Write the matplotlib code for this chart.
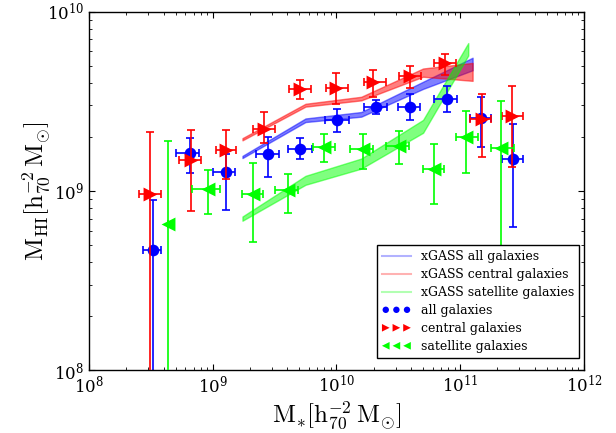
import matplotlib

matplotlib.use("Agg")
import matplotlib.pyplot as plt
import numpy as np

plt.rcParams.update({
    "font.family": "serif",
    "font.serif": ["DejaVu Serif"],
    "mathtext.fontset": "cm",
    "axes.linewidth": 1.0,
})

# ---- observed points (all / central / satellite) ----
all_x = [3.27e8, 6.53e8, 1.27e9, 2.78e9, 5.09e9, 1.01e10, 2.09e10, 3.93e10, 7.76e10, 1.48e11, 2.67e11]
all_y = [4.66e8, 1.62e9, 1.27e9, 1.60e9, 1.72e9, 2.50e9, 2.94e9, 2.94e9, 3.27e9, 2.54e9, 1.50e9]
all_xlo = [2.74e8, 5.04e8, 1.00e9, 2.22e9, 4.05e9, 8.15e9, 1.68e10, 3.12e10, 6.17e10, 1.20e11, 2.19e11]
all_xhi = [3.85e8, 7.77e8, 1.50e9, 3.43e9, 6.37e9, 1.26e10, 2.56e10, 4.73e10, 9.50e10, 1.77e11, 3.24e11]
all_ylo = [1e7, 1.25e9, 7.8e8, 1.19e9, 1.50e9, 2.13e9, 2.67e9, 2.48e9, 2.75e9, 1.76e9, 6.28e8]
all_yhi = [8.85e8, 1.97e9, 1.60e9, 2.01e9, 1.96e9, 2.85e9, 3.20e9, 3.49e9, 3.84e9, 3.34e9, 2.37e9]

cen_x = [3.10e8, 6.61e8, 1.29e9, 2.60e9, 5.04e9, 1.00e10, 1.99e10, 3.93e10, 7.57e10, 1.50e11, 2.64e11]
cen_y = [9.64e8, 1.48e9, 1.68e9, 2.22e9, 3.72e9, 3.77e9, 4.06e9, 4.37e9, 5.18e9, 2.53e9, 2.62e9]
cen_xlo = [2.55e8, 5.35e8, 1.07e9, 2.11e9, 4.12e9, 8.26e9, 1.68e10, 3.22e10, 6.17e10, 1.20e11, 2.19e11]
cen_xhi = [3.79e8, 8.11e8, 1.55e9, 3.16e9, 6.25e9, 1.25e10, 2.51e10, 4.82e10, 9.22e10, 1.77e11, 3.24e11]
cen_ylo = [1e7, 7.67e8, 1.17e9, 1.84e9, 3.27e9, 3.07e9, 3.34e9, 3.73e9, 4.42e9, 1.55e9, 1.35e9]
cen_yhi = [2.13e9, 2.18e9, 2.18e9, 2.75e9, 4.18e9, 4.52e9, 4.75e9, 4.98e9, 5.79e9, 3.46e9, 3.84e9]

sat_x = [4.31e8, 9.16e8, 2.11e9, 4.05e9, 8.00e9, 1.63e10, 3.18e10, 6.17e10, 1.12e11, 2.13e11]
sat_y = [6.56e8, 1.02e9, 9.65e8, 1.01e9, 1.76e9, 1.72e9, 1.79e9, 1.33e9, 2.01e9, 1.73e9]
sat_xlo = [4.31e8, 6.80e8, 1.71e9, 3.16e9, 6.44e9, 1.29e10, 2.52e10, 4.96e10, 9.22e10, 1.77e11]
sat_xhi = [4.31e8, 1.15e9, 2.55e9, 4.88e9, 9.64e9, 1.96e10, 3.83e10, 7.43e10, 1.38e11, 2.72e11]
sat_ylo = [1e7, 7.39e8, 5.18e8, 7.55e8, 1.45e9, 1.33e9, 1.42e9, 8.41e8, 1.26e9, 3.0e8]
sat_yhi = [1.90e9, 1.30e9, 1.43e9, 1.24e9, 2.07e9, 2.07e9, 2.16e9, 1.82e9, 2.79e9, 3.16e9]

# ---- xGASS bands ----
xg_x = [1.738e9, 5.62e9, 1.585e10, 5.01e10, 1.259e11]
xg_all_lo = [1.524e9, 2.421e9, 2.594e9, 3.707e9, 4.710e9]
xg_all_hi = [1.567e9, 2.535e9, 2.754e9, 4.064e9, 5.534e9]
xg_cen_lo = [1.914e9, 2.951e9, 3.199e9, 4.335e9, 4.111e9]
xg_cen_hi = [1.968e9, 3.062e9, 3.350e9, 4.819e9, 5.176e9]
xg_sat_x = [1.738e9, 5.62e9, 1.585e10, 5.01e10, 1.161e11]
xg_sat_lo = [6.81e8, 1.081e9, 1.330e9, 2.109e9, 5.69e9]
xg_sat_hi = [7.19e8, 1.213e9, 1.514e9, 2.489e9, 6.68e9]


def err(v, lo, hi):
    v, lo, hi = np.asarray(v), np.asarray(lo), np.asarray(hi)
    return [v - lo, hi - v]


fig = plt.figure(figsize=(6.16, 4.33), dpi=100)
ax = fig.add_axes([0.1445, 0.1455, 0.8035, 0.8275])
ax.set_xscale("log")
ax.set_yscale("log")

# bands
ax.fill_between(xg_x, xg_all_lo, xg_all_hi, color="b", alpha=0.5, lw=1, zorder=1)
ax.fill_between(xg_x, xg_cen_lo, xg_cen_hi, color="r", alpha=0.5, lw=1, zorder=1)
ax.fill_between(xg_sat_x, xg_sat_lo, xg_sat_hi, color="lime", alpha=0.5, lw=1, zorder=1)
ax.plot([], [], color="b", alpha=0.3, lw=1.5, label="xGASS all galaxies")
ax.plot([], [], color="r", alpha=0.3, lw=1.5, label="xGASS central galaxies")
ax.plot([], [], color="lime", alpha=0.3, lw=1.5, label="xGASS satellite galaxies")

eb = dict(fmt="none", capsize=3, elinewidth=1.2, capthick=1.2)
ax.errorbar(all_x, all_y, xerr=err(all_x, all_xlo, all_xhi), yerr=err(all_y, all_ylo, all_yhi),
            ecolor="b", zorder=2, **eb)
ax.scatter(all_x, all_y, marker="o", s=70, c="b", lw=0, zorder=3, label="all galaxies")
ax.errorbar(cen_x, cen_y, xerr=err(cen_x, cen_xlo, cen_xhi), yerr=err(cen_y, cen_ylo, cen_yhi),
            ecolor="r", zorder=4, **eb)
ax.scatter(cen_x, cen_y, marker=">", s=100, c="r", lw=0, zorder=5, label="central galaxies")
ax.errorbar(sat_x, sat_y, xerr=err(sat_x, sat_xlo, sat_xhi), yerr=err(sat_y, sat_ylo, sat_yhi),
            ecolor="lime", zorder=6, **eb)
ax.scatter(sat_x, sat_y, marker="<", s=100, c="lime", lw=0, zorder=7, label="satellite galaxies")

ax.set_xlim(1e8, 1e12)
ax.set_ylim(1e8, 1e10)
ax.tick_params(which="both", direction="in", top=True, right=True, labelsize=12)
ax.tick_params(which="major", length=4)
ax.tick_params(which="minor", length=2)
ax.set_xlabel(r"$\mathrm{M_{*}[h_{70}^{-2}\,M_{\odot}]}$", fontsize=18, labelpad=2)
ax.set_ylabel(r"$\mathrm{M_{HI}[h_{70}^{-2}\,M_{\odot}]}$", fontsize=18, labelpad=-4)

leg = ax.legend(loc="lower right", bbox_to_anchor=(0.99, 0.033), borderaxespad=0,
                fontsize=9, scatterpoints=3, scatteryoffsets=[0.5], labelspacing=0.4,
                markerscale=0.55, handlelength=2.3, fancybox=False, framealpha=1,
                edgecolor="black")
leg.get_frame().set_linewidth(1.0)
leg.set_zorder(10)

fig.savefig("out.png", dpi=100)
